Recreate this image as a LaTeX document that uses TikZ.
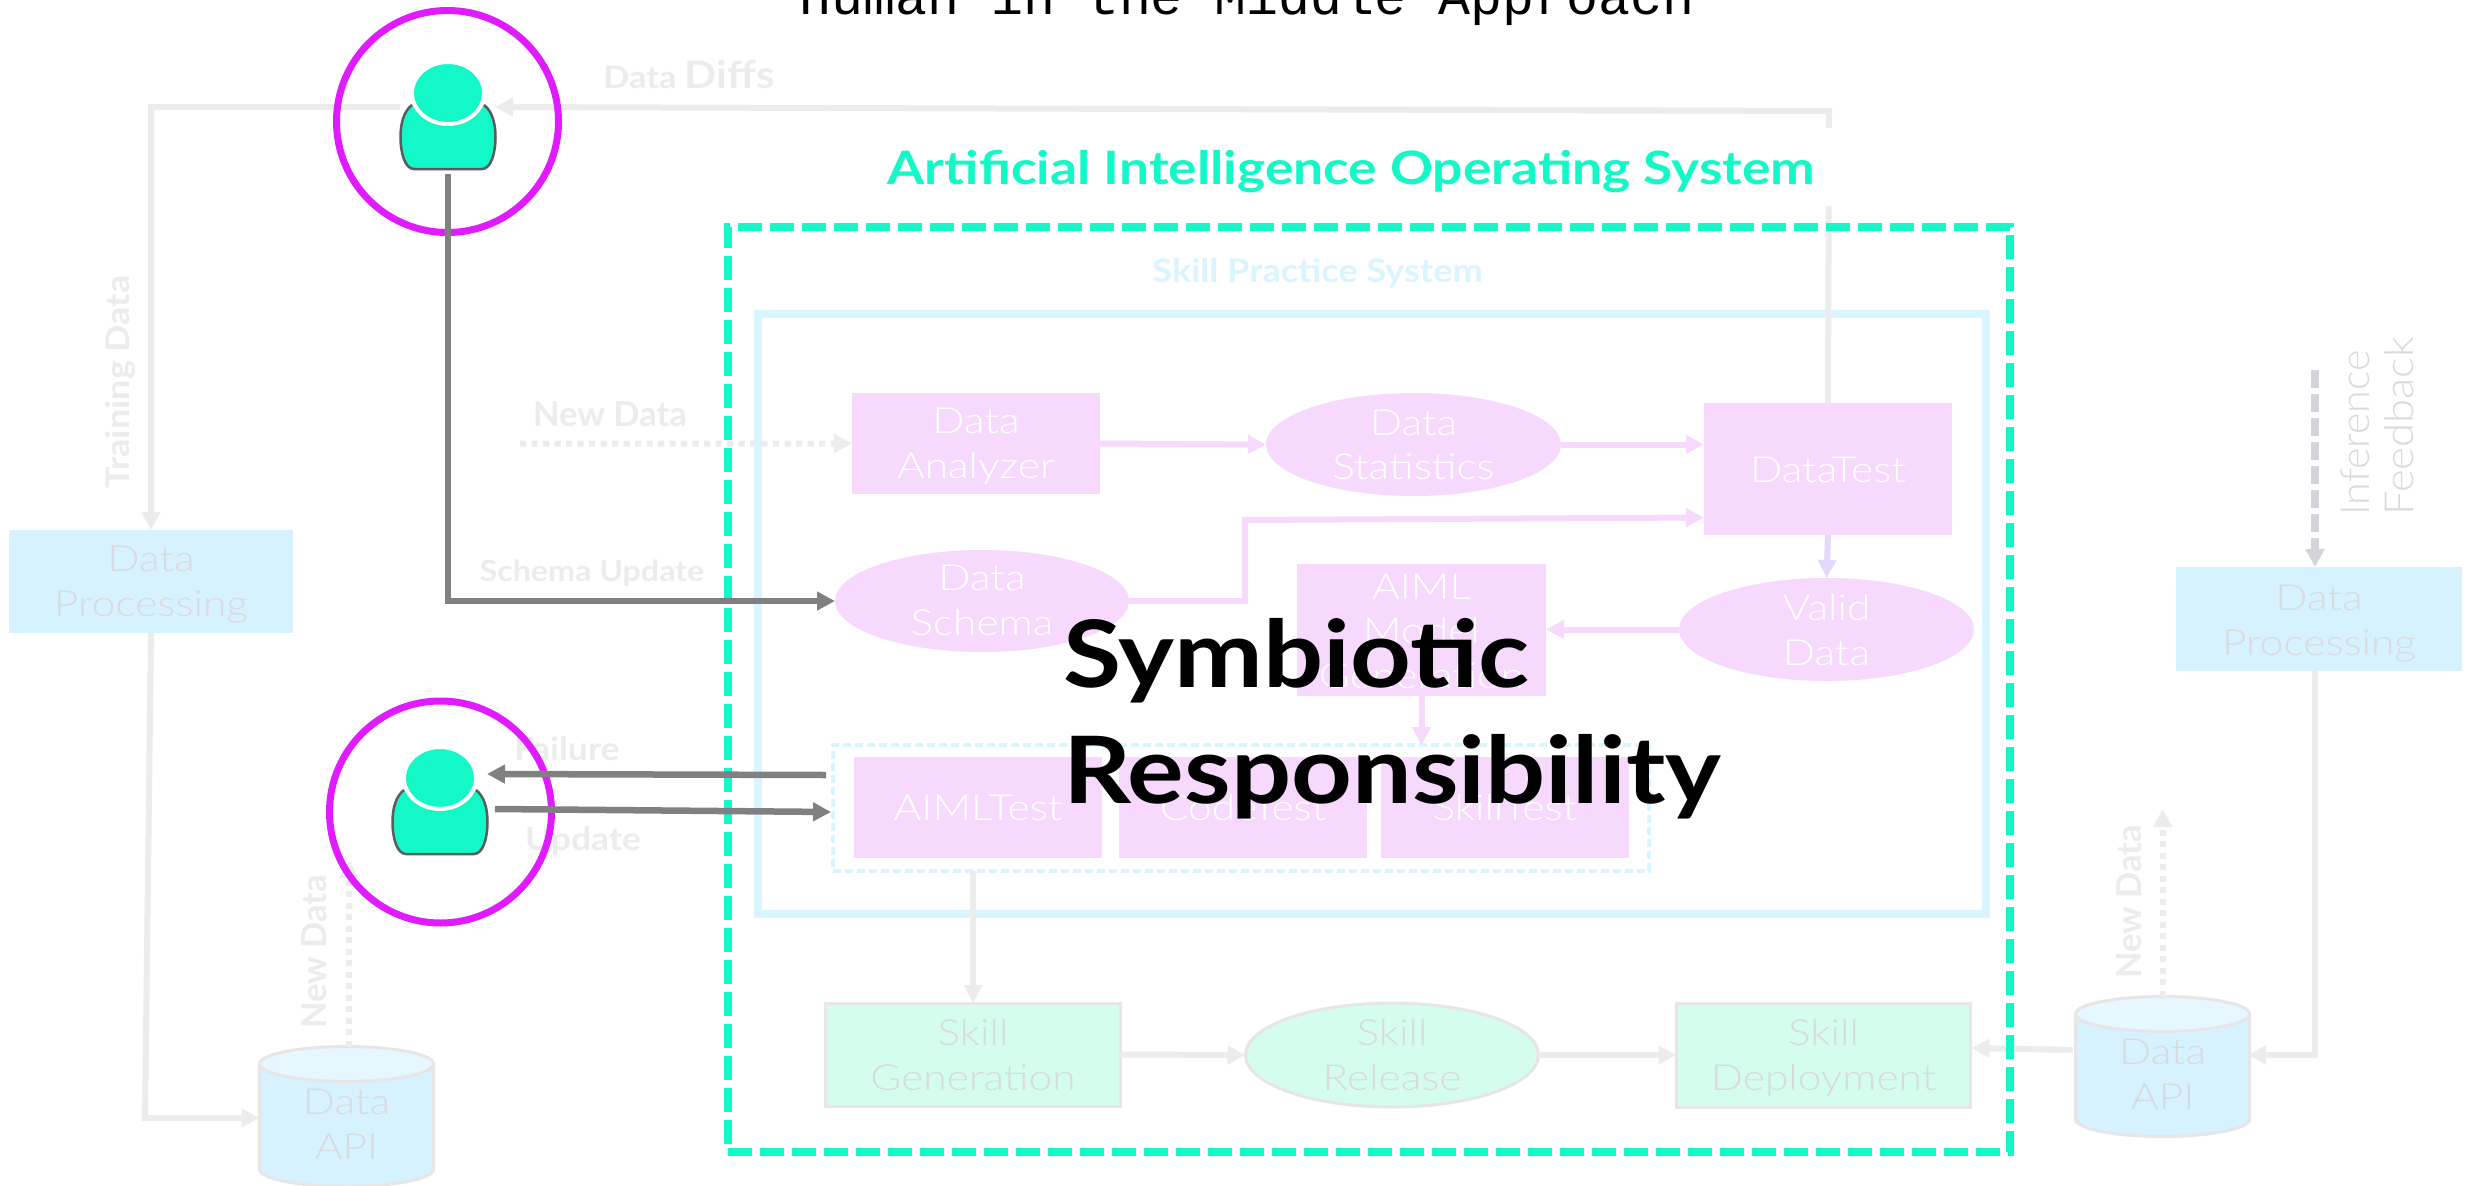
\documentclass[tikz,border=0pt]{standalone}
\usepackage{fontspec}
\usetikzlibrary{arrows.meta,shapes.geometric,positioning}
\setmainfont{Lato}
\newfontfamily\lightf{Lato Light}[FakeStretch=1.18]
\newfontfamily\lightn{Lato Light}[FakeStretch=1.03]
\newfontfamily\lightm{Lato Light}[FakeStretch=1.09]
\newfontfamily\boldw{Lato Bold}[FakeStretch=1.11]
\newfontfamily\boldn{Lato Bold}
\newfontfamily\boldt{Lato Bold}[FakeStretch=1.16]
\newfontfamily\overlayf{Lato Bold}[FakeStretch=1.14]
\newfontfamily\monof{Liberation Mono}
\definecolor{lgray}{HTML}{ECECEC}
\definecolor{midgray}{HTML}{808080}
\definecolor{teal}{HTML}{12F8C6}
\definecolor{magent}{HTML}{E01BFF}
\definecolor{pale}{HTML}{D9F5FF}
\definecolor{paleb}{HTML}{D6F2FE}
\definecolor{palet}{HTML}{E6F7FF}
\definecolor{pink}{HTML}{F6D9FD}
\definecolor{mint}{HTML}{D4FDEE}
\definecolor{txtg}{HTML}{D9DADE}
\definecolor{lav}{HTML}{E4D9FD}
\definecolor{bordg}{HTML}{E6E6E6}
\definecolor{dashg}{HTML}{D3D3DA}
\definecolor{bodyg}{HTML}{5A5A60}
\newcommand{\lightfont}{\lightf\fontsize{36}{44.5}\selectfont}
\newcommand{\lab}[1]{\boldw\fontsize{#1}{#1}\selectfont}
\newcommand{\labn}[1]{\boldn\fontsize{#1}{#1}\selectfont}
\newcommand{\personfig}[3]{%
  \begin{scope}[shift={(#2,#3)}]
  \path[fill=teal,draw=bodyg,line width=2.5pt]
    (-36,12) .. controls (-44,18) and (-47.5,30) .. (-47.5,44)
    .. controls (-47.5,60) and (-43,76) .. (-34,76)
    -- (34,76)
    .. controls (43,76) and (47.5,60) .. (47.5,44)
    .. controls (47.5,30) and (44,18) .. (36,12);
  \node[headshape] (#1) at (0,0) {};
  \end{scope}
}
\tikzset{
  x=1pt,y=-1pt,
  tl/.style={text height=#1pt,text depth=0pt},
  tipa/.style={-{Triangle[length=18pt,width=18pt]}},
  conn/.style={line width=6pt,draw=lgray,tipa},
  pconn/.style={line width=6pt,draw=pink,tipa},
  hconn/.style={line width=6.5pt,draw=midgray,tipa},
  dotconn/.style={conn,dash pattern=on 6pt off 5.5pt},
  pinkbox/.style={rectangle,fill=pink,text=white,font=\lightfont,align=center,inner sep=0pt,outer sep=0pt,minimum width=#1},
  pinkell/.style={ellipse,fill=pink,text=white,font=\lightfont,align=center,inner sep=-30pt,outer sep=0pt},
  mintbox/.style={rectangle,fill=mint,draw=bordg,line width=3pt,text=txtg,font=\lightfont,align=center,inner sep=0pt,outer sep=0pt},
  mintell/.style={ellipse,fill=mint,draw=bordg,line width=3pt,text=txtg,font=\lightfont,align=center,inner sep=-30pt,outer sep=0pt},
  bluebox/.style={rectangle,fill=paleb,text=txtg,font=\lightfont,align=center,inner sep=0pt,outer sep=0pt},
  dbshape/.style={cylinder,shape border rotate=90,aspect=0.4,cylinder uses custom fill,cylinder body fill=paleb,cylinder end fill=palet,draw=bordg,line width=3pt,text=txtg,font=\lightfont,align=center,inner sep=0pt,outer sep=0pt,minimum width=174pt,minimum height=140pt},
  ring/.style={circle,draw=magent,line width=7pt,inner sep=0pt,outer sep=0pt,minimum size=222pt},
  headshape/.style={ellipse,fill=teal,draw=white,line width=4pt,inner sep=0pt,outer sep=0pt,minimum width=72pt,minimum height=62pt},
  lbl/.style={anchor=base,inner sep=0pt,text=lgray},
}
\begin{document}
\begin{tikzpicture}
\useasboundingbox (0,0) rectangle (2469,1186);
\fill[white] (0,0) rectangle (2469,1186);

% title
\node[anchor=base,inner sep=0pt,font=\monof\fontsize{53.3}{53.3}\selectfont] (ttl) at (1247,14) {Human in the Middle Approach};

% skill practice frame
\node[rectangle,draw=pale,line width=8pt,outer sep=0pt,inner sep=0pt,minimum width=1227.7pt,minimum height=600pt] (sps) at (1371.85,614) {};
\node[lbl,text=pale,font=\lab{32.5}] (spslab) at (1317.5,282) {Skill Practice System};

% free ends
\coordinate (diffA) at (1829,111);
\coordinate (diffB) at (495,107);
\coordinate (trainA) at (400,107);
\coordinate (trainB) at (151,107);
\coordinate (newA) at (520,443.7);
\coordinate (infA) at (2315,370);
\coordinate (schemaA) at (448,173.5);
\coordinate (schemaB) at (448,601);
\coordinate (failA) at (826,775);
\coordinate (failB) at (487,774);
\coordinate (updA) at (495,809);
\coordinate (updB) at (831,812);
\coordinate (ndlTip) at (349,860);
\coordinate (ndrTip) at (2162.6,809);

% processes
\node[pinkbox=248pt,minimum height=101pt,tl=69] (an) at (976,443.5) {Data\\Analyzer};
\node[pinkell,minimum width=295pt,minimum height=103pt,tl=70] (st) at (1413.5,444.5) {Data\\Statistics};
\node[pinkbox=248pt,minimum height=132pt,tl=26] (dt) at (1828,469) {DataTest};
\node[pinkell,minimum width=294pt,minimum height=102pt,tl=68] (ds) at (982,601) {Data\\Schema};
\node[pinkbox=249pt,minimum height=132pt,tl=116] (ml) at (1421.5,630) {AIML\\Model\\Generation};
\node[pinkell,minimum width=295pt,minimum height=103pt,tl=71] (vd) at (1826.5,629.5) {Valid\\Data};
\node[rectangle,draw=pale,line width=3.5pt,dash pattern=on 8pt off 4pt,inner sep=0pt,outer sep=0pt,minimum width=816pt,minimum height=126pt] (tf) at (1241,808) {};
\node[pinkbox=248pt,minimum height=101pt,tl=25] (at) at (978,807.5) {AIMLTest};
\node[pinkbox=248pt,minimum height=101pt,tl=25] (ct) at (1243,807.5) {CodeTest};
\node[pinkbox=247.6pt,minimum height=101pt,tl=25] (sk) at (1504.8,807.5) {SkillTest};

\node[mintbox,minimum width=295pt,minimum height=103pt,tl=71] (sg) at (973,1054.5) {Skill\\Generation};
\node[mintell,minimum width=293pt,minimum height=104pt,tl=70] (sr) at (1392,1055) {Skill\\Release};
\node[mintbox,minimum width=294pt,minimum height=104pt,tl=70] (sd) at (1823.5,1055) {Skill\\Deployment};

\node[bluebox,minimum width=284pt,minimum height=103pt,tl=69] (pl) at (151,581.5) {Data\\Processing};
\node[bluebox,minimum width=286pt,minimum height=104pt,tl=72] (pr) at (2319,619) {Data\\Processing};
\node[dbshape,tl=66.5] (dbl) at (346.5,1126) {Data\\API};
\node[dbshape,tl=66.5] (dbr) at (2162.6,1076) {Data\\API};

% light connectors
\draw[conn] (dt.north) -- (diffA) -- (diffB);
\draw[conn] (trainA) -- (trainB) -- (pl.north);
\coordinate (plb) at (145,1118);
\coordinate (dblW) at (259.5,1118);
\draw[conn] (pl.south) -- (plb) -- (dblW);
\draw[dotconn] (newA) -- (an.west);
\draw[pconn] (an.east) -- (st.west);
\draw[pconn] (st.east) -- (dt.west |- st.east);
\coordinate (schE) at (1245,601);
\coordinate (schN) at (1245,520);
\coordinate (schT) at (1704,517.5);
\draw[pconn] (ds.east) -- (schE) -- (schN) -- (schT);
\draw[pconn,draw=lav] (dt.south) -- (vd.north);
\draw[pconn] (vd.west) -- (ml.east |- vd.west);
\draw[pconn] (ml.south) -- (ml.south |- tf.north);
\draw[conn,line width=5.5pt] (sg.north |- tf.south) -- (sg.north);
\draw[conn] (sg.east) -- (sr.west);
\draw[conn] (sr.east) -- (sd.west);
\coordinate (dbrW) at (2072.7,1050);
\coordinate (sdE) at (1971.5,1048);
\draw[conn] (dbrW) -- (sdE);
\coordinate (prb) at (2315,1055);
\coordinate (dbrE) at (2248,1055);
\draw[conn] (pr.south -| prb) -- (prb) -- (dbrE);
\draw[dotconn] (dbl.north -| ndlTip) -- (ndlTip);
\draw[dotconn] (dbr.north -| ndrTip) -- (ndrTip);
\draw[conn,draw=dashg,line width=8pt,dash pattern=on 18pt off 6pt] (infA) -- (pr.north -| infA);

% labels
\node[lbl,font=\lab{31}] (lblDiff) at (689,88) {Data {\fontsize{38}{38}\selectfont Diffs}};
\node[lbl,font=\labn{34.5}] (lblNew) at (610,426) {New Data};
\node[lbl,font=\lab{29}] (lblSch) at (592,581) {Schema Update};
\node[lbl,font=\lab{32.5},rotate=90] (lblTrain) at (129,382) {Training Data};
\node[lbl,font=\labn{34.5},rotate=90] (lblNL) at (326,952) {New Data};
\node[lbl,font=\labn{34.5},rotate=90] (lblNR) at (2141,902) {New Data};
\node[lbl,font=\lab{32}] (lblFail) at (567,760) {Failure};
\node[lbl,font=\lab{32}] (lblUpd) at (583,850) {Update};
\node[anchor=base west,rotate=90,inner sep=0pt,text=txtg,font=\lightn\fontsize{40}{44}\selectfont] (lblInf) at (2369.5,516) {Inference};
\node[anchor=base west,rotate=90,inner sep=0pt,text=txtg,font=\lightm\fontsize{40}{44}\selectfont] (lblFb) at (2413,516) {Feedback};

% operating system frame
\node[rectangle,draw=teal,line width=8pt,dash pattern=on 24pt off 8pt,inner sep=0pt,outer sep=0pt,minimum width=1282.5pt,minimum height=925.5pt] (aios) at (1368.75,689.25) {};
\node[anchor=base,inner xsep=24pt,inner ysep=0pt,text height=56pt,text depth=22pt,fill=white,text=teal,font=\boldt\fontsize{46}{46}\selectfont] (aiosl) at (1351.5,184) {Artificial Intelligence Operating System};

% people
\personfig{pa}{448}{93}
\node[ring] (ra) at (447.5,121.5) {};
\personfig{pb}{440}{778}
\node[ring] (rb) at (440.5,812) {};

% human connectors
\draw[hconn] (schemaA) -- (schemaB) -- (ds.west);
\draw[hconn] (failA) -- (failB);
\draw[hconn] (updA) -- (updB);

% overlay
\node[anchor=base west,inner sep=0pt,font=\overlayf\fontsize{93}{93}\selectfont] (symA) at (1063,687) {Symbiotic};
\node[anchor=base west,inner sep=0pt,font=\overlayf\fontsize{93}{93}\selectfont] (symB) at (1063,803) {Responsibility};
\end{tikzpicture}
\end{document}
